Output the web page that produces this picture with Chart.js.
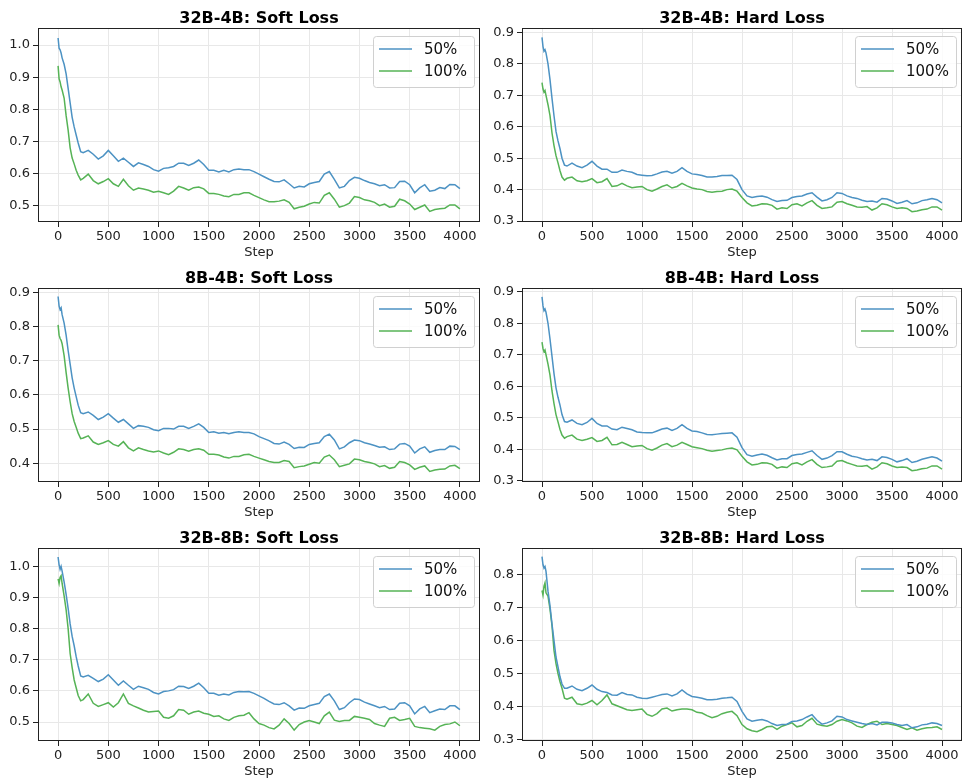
<!DOCTYPE html>
<html lang="en">
<head>
    <meta charset="UTF-8">
    <title>Distillation Loss Curves</title>
    <script src="https://cdn.jsdelivr.net/npm/chart.js"></script>
    <style>
        body {
            margin: 0;
            background: #ffffff;
            font-family: "DejaVu Sans", sans-serif;
        }
        #wrap {
            position: relative;
            width: 963px;
            height: 781px;
        }
        canvas {
            position: absolute;
        }
    </style>
</head>
<body>
    <div id="wrap">
        <canvas id="c0" width="481" height="260" style="left:0px;top:0px;width:481px;height:260px"></canvas>
        <canvas id="c1" width="482" height="260" style="left:481px;top:0px;width:482px;height:260px"></canvas>
        <canvas id="c2" width="481" height="260" style="left:0px;top:260px;width:481px;height:260px"></canvas>
        <canvas id="c3" width="482" height="260" style="left:481px;top:260px;width:482px;height:260px"></canvas>
        <canvas id="c4" width="481" height="261" style="left:0px;top:520px;width:481px;height:261px"></canvas>
        <canvas id="c5" width="482" height="261" style="left:481px;top:520px;width:482px;height:261px"></canvas>
    </div>

    <script>
        const steps = [0, 10, 20, 30, 40, 60, 80, 100, 120, 140, 160, 180, 200, 225,
            250, 300, 350, 400, 450, 500, 550, 600, 650, 700,
            750, 800, 850, 900, 950, 1000, 1050, 1100, 1150, 1200,
            1250, 1300, 1350, 1400, 1450, 1500, 1550, 1600, 1650, 1700,
            1750, 1800, 1850, 1900, 1950, 2000, 2050, 2100, 2150, 2200,
            2250, 2300, 2350, 2400, 2450, 2500, 2550, 2600, 2650, 2700,
            2750, 2800, 2850, 2900, 2950, 3000, 3050, 3100, 3150, 3200,
            3250, 3300, 3350, 3400, 3450, 3500, 3550, 3600, 3650, 3700,
            3750, 3800, 3850, 3900, 3950, 4000];

        const xTicks = [0, 500, 1000, 1500, 2000, 2500, 3000, 3500, 4000];
        const seriesLabels = ['50%', '100%'];
        const titles = ['32B-4B: Soft Loss', '32B-4B: Hard Loss', '8B-4B: Soft Loss',
            '8B-4B: Hard Loss', '32B-8B: Soft Loss', '32B-8B: Hard Loss'];

        // 32B-4B soft
        const soft32b4b_50 = [1.022, 0.99, 0.985, 0.975, 0.96, 0.94, 0.91, 0.865, 0.82, 0.775, 0.745, 0.72, 0.695, 0.668,
            0.665, 0.672, 0.66, 0.645, 0.655, 0.672, 0.655, 0.638, 0.648, 0.635,
            0.622, 0.633, 0.628, 0.622, 0.612, 0.607, 0.616, 0.618, 0.622, 0.632,
            0.632, 0.625, 0.632, 0.642, 0.628, 0.61, 0.61, 0.605, 0.61, 0.605,
            0.612, 0.614, 0.612, 0.612, 0.606, 0.598, 0.59, 0.582, 0.575, 0.574,
            0.58, 0.568, 0.555, 0.56, 0.558, 0.568, 0.572, 0.575, 0.598, 0.606,
            0.582, 0.555, 0.56, 0.578, 0.588, 0.585, 0.578, 0.572, 0.568, 0.562,
            0.565, 0.555, 0.556, 0.575, 0.576, 0.565, 0.54, 0.555, 0.565, 0.545,
            0.548, 0.556, 0.553, 0.566, 0.565, 0.553];
        const soft32b4b_100 = [0.935, 0.895, 0.885, 0.87, 0.86, 0.835, 0.78, 0.735, 0.68, 0.648, 0.63, 0.61, 0.595, 0.58,
            0.585, 0.598, 0.578, 0.568, 0.575, 0.584, 0.568, 0.56, 0.582, 0.562,
            0.548, 0.555, 0.552, 0.548, 0.542, 0.545, 0.54, 0.535, 0.545, 0.56,
            0.555, 0.548, 0.556, 0.558, 0.552, 0.538, 0.538, 0.535, 0.53, 0.528,
            0.535, 0.535, 0.54, 0.54, 0.532, 0.525, 0.518, 0.512, 0.512, 0.514,
            0.518, 0.51, 0.49, 0.495, 0.498, 0.505, 0.51, 0.508, 0.532, 0.54,
            0.52, 0.495, 0.5, 0.508, 0.528, 0.525, 0.518, 0.515, 0.51, 0.5,
            0.505, 0.495, 0.498, 0.52, 0.515, 0.505, 0.488, 0.495, 0.502, 0.482,
            0.488, 0.49, 0.492, 0.502, 0.502, 0.49];

        // 32B-4B hard
        const hard32b4b_50 = [0.884, 0.855, 0.84, 0.845, 0.835, 0.80, 0.75, 0.69, 0.635, 0.585, 0.555, 0.53, 0.50, 0.478,
            0.475, 0.484, 0.475, 0.47, 0.478, 0.49, 0.475, 0.465, 0.465, 0.455,
            0.455, 0.462, 0.458, 0.455, 0.448, 0.446, 0.444, 0.445, 0.45, 0.456,
            0.458, 0.452, 0.458, 0.47, 0.458, 0.45, 0.448, 0.445, 0.44, 0.44,
            0.442, 0.445, 0.445, 0.446, 0.432, 0.40, 0.38, 0.375, 0.378, 0.38,
            0.376, 0.368, 0.362, 0.365, 0.366, 0.375, 0.378, 0.38, 0.386, 0.39,
            0.376, 0.364, 0.368, 0.375, 0.39, 0.388, 0.38, 0.375, 0.372, 0.366,
            0.362, 0.364, 0.36, 0.372, 0.37, 0.364, 0.356, 0.36, 0.365, 0.355,
            0.358, 0.365, 0.368, 0.372, 0.368, 0.358];
        const hard32b4b_100 = [0.74, 0.72, 0.71, 0.715, 0.70, 0.67, 0.635, 0.58, 0.54, 0.508, 0.485, 0.46, 0.44, 0.43,
            0.436, 0.44, 0.428, 0.425, 0.428, 0.435, 0.422, 0.425, 0.435, 0.41,
            0.412, 0.42, 0.412, 0.406, 0.408, 0.41, 0.40, 0.395, 0.402, 0.41,
            0.415, 0.405, 0.41, 0.42, 0.412, 0.405, 0.402, 0.40, 0.394, 0.392,
            0.394, 0.395, 0.40, 0.402, 0.395, 0.375, 0.358, 0.348, 0.35, 0.355,
            0.354, 0.35, 0.338, 0.342, 0.34, 0.352, 0.355, 0.348, 0.358, 0.365,
            0.35, 0.34, 0.342, 0.345, 0.36, 0.362, 0.355, 0.35, 0.345, 0.344,
            0.346, 0.335, 0.342, 0.355, 0.352, 0.345, 0.34, 0.342, 0.34, 0.33,
            0.332, 0.336, 0.338, 0.345, 0.345, 0.335];

        // 8B-4B soft
        const soft8b4b_50 = [0.888, 0.86, 0.85, 0.855, 0.835, 0.81, 0.775, 0.73, 0.69, 0.65, 0.62, 0.595, 0.57, 0.548,
            0.545, 0.55, 0.54, 0.528, 0.535, 0.545, 0.532, 0.52, 0.528, 0.515,
            0.502, 0.51, 0.508, 0.505, 0.498, 0.495, 0.502, 0.502, 0.50, 0.508,
            0.508, 0.502, 0.508, 0.515, 0.505, 0.49, 0.492, 0.488, 0.49, 0.486,
            0.49, 0.492, 0.49, 0.49, 0.486, 0.478, 0.472, 0.466, 0.458, 0.456,
            0.462, 0.455, 0.443, 0.447, 0.446, 0.455, 0.458, 0.46, 0.478, 0.485,
            0.468, 0.442, 0.448, 0.46, 0.468, 0.466, 0.46, 0.456, 0.452, 0.447,
            0.448, 0.44, 0.442, 0.456, 0.458, 0.45, 0.43, 0.442, 0.448, 0.432,
            0.437, 0.44, 0.44, 0.45, 0.449, 0.44];
        const soft8b4b_100 = [0.805, 0.775, 0.765, 0.76, 0.75, 0.715, 0.665, 0.62, 0.58, 0.545, 0.522, 0.505, 0.488, 0.472,
            0.474, 0.48, 0.462, 0.455, 0.46, 0.466, 0.455, 0.45, 0.463, 0.445,
            0.436, 0.445, 0.44, 0.436, 0.433, 0.436, 0.43, 0.425, 0.432, 0.442,
            0.44, 0.435, 0.44, 0.442, 0.438, 0.426, 0.426, 0.424, 0.418, 0.415,
            0.42, 0.42, 0.425, 0.426, 0.42, 0.415, 0.41, 0.405, 0.402, 0.402,
            0.408, 0.405, 0.387, 0.39, 0.392, 0.397, 0.402, 0.40, 0.418, 0.424,
            0.41, 0.39, 0.394, 0.398, 0.412, 0.41, 0.405, 0.402, 0.398, 0.39,
            0.393, 0.385, 0.388, 0.405, 0.402, 0.395, 0.382, 0.388, 0.392, 0.376,
            0.38, 0.382, 0.383, 0.392, 0.394, 0.384];

        // 8B-4B hard
        const hard8b4b_50 = [0.884, 0.855, 0.84, 0.845, 0.835, 0.80, 0.75, 0.695, 0.64, 0.595, 0.565, 0.54, 0.51, 0.488,
            0.486, 0.493, 0.482, 0.478, 0.485, 0.498, 0.482, 0.474, 0.474, 0.464,
            0.462, 0.47, 0.466, 0.462, 0.455, 0.453, 0.452, 0.452, 0.458, 0.464,
            0.467, 0.46, 0.466, 0.478, 0.466, 0.458, 0.456, 0.452, 0.447, 0.446,
            0.448, 0.45, 0.451, 0.452, 0.438, 0.405, 0.383, 0.378, 0.382, 0.385,
            0.381, 0.373, 0.366, 0.37, 0.37, 0.38, 0.383, 0.385, 0.39, 0.395,
            0.38, 0.368, 0.372, 0.38, 0.392, 0.392, 0.384, 0.378, 0.375, 0.37,
            0.366, 0.368, 0.364, 0.376, 0.374, 0.368, 0.36, 0.364, 0.37, 0.358,
            0.362, 0.368, 0.372, 0.376, 0.372, 0.362];
        const hard8b4b_100 = [0.74, 0.72, 0.71, 0.715, 0.70, 0.67, 0.635, 0.585, 0.545, 0.51, 0.487, 0.463, 0.445, 0.435,
            0.44, 0.445, 0.432, 0.428, 0.432, 0.437, 0.425, 0.428, 0.438, 0.414,
            0.415, 0.422, 0.415, 0.408, 0.41, 0.412, 0.402, 0.397, 0.404, 0.413,
            0.418, 0.408, 0.413, 0.422, 0.415, 0.408, 0.405, 0.402, 0.397, 0.394,
            0.396, 0.398, 0.402, 0.404, 0.398, 0.378, 0.36, 0.35, 0.352, 0.357,
            0.356, 0.352, 0.34, 0.344, 0.342, 0.354, 0.357, 0.35, 0.36, 0.367,
            0.352, 0.342, 0.344, 0.347, 0.362, 0.364, 0.357, 0.352, 0.347, 0.346,
            0.348, 0.337, 0.344, 0.357, 0.354, 0.347, 0.342, 0.344, 0.342, 0.332,
            0.334, 0.338, 0.34, 0.347, 0.347, 0.337];

        // 32B-8B soft
        const soft32b8b_50 = [1.03, 1.005, 0.99, 1.0, 0.985, 0.95, 0.91, 0.865, 0.815, 0.775, 0.745, 0.71, 0.68, 0.648,
            0.645, 0.65, 0.64, 0.63, 0.638, 0.652, 0.635, 0.618, 0.632, 0.618,
            0.605, 0.615, 0.61, 0.605, 0.595, 0.59, 0.598, 0.60, 0.604, 0.615,
            0.614, 0.608, 0.615, 0.625, 0.61, 0.592, 0.592, 0.586, 0.59, 0.587,
            0.595, 0.598, 0.597, 0.598, 0.592, 0.584, 0.576, 0.566, 0.558, 0.556,
            0.562, 0.552, 0.538, 0.545, 0.544, 0.552, 0.556, 0.56, 0.582, 0.59,
            0.568, 0.54, 0.546, 0.562, 0.574, 0.572, 0.564, 0.558, 0.552, 0.546,
            0.55, 0.54, 0.542, 0.56, 0.562, 0.552, 0.526, 0.542, 0.55, 0.53,
            0.536, 0.542, 0.54, 0.552, 0.552, 0.54];
        const soft32b8b_100 = [0.96, 0.945, 0.965, 0.97, 0.945, 0.905, 0.86, 0.80, 0.72, 0.675, 0.635, 0.61, 0.585, 0.568,
            0.572, 0.59, 0.56, 0.55, 0.556, 0.562, 0.548, 0.562, 0.59, 0.56,
            0.552, 0.545, 0.538, 0.532, 0.534, 0.535, 0.515, 0.512, 0.52, 0.54,
            0.538, 0.525, 0.532, 0.535, 0.528, 0.525, 0.518, 0.52, 0.51, 0.505,
            0.515, 0.52, 0.522, 0.53, 0.51, 0.495, 0.49, 0.482, 0.478, 0.49,
            0.51, 0.495, 0.474, 0.492, 0.50, 0.505, 0.50, 0.495, 0.52, 0.532,
            0.506, 0.502, 0.505, 0.505, 0.518, 0.515, 0.512, 0.508, 0.495, 0.49,
            0.486, 0.512, 0.515, 0.505, 0.508, 0.512, 0.486, 0.482, 0.48, 0.478,
            0.474, 0.486, 0.492, 0.494, 0.50, 0.488];

        // 32B-8B hard
        const hard32b8b_50 = [0.855, 0.83, 0.82, 0.825, 0.81, 0.75, 0.705, 0.65, 0.60, 0.55, 0.52, 0.49, 0.468, 0.455,
            0.455, 0.462, 0.452, 0.448, 0.455, 0.465, 0.452, 0.445, 0.442, 0.435,
            0.434, 0.442, 0.436, 0.435, 0.428, 0.425, 0.424, 0.428, 0.432, 0.436,
            0.438, 0.432, 0.438, 0.45, 0.438, 0.43, 0.428, 0.425, 0.42, 0.42,
            0.422, 0.425, 0.426, 0.428, 0.415, 0.385, 0.362, 0.355, 0.358, 0.36,
            0.356, 0.348, 0.342, 0.345, 0.346, 0.354, 0.356, 0.36, 0.368, 0.375,
            0.358, 0.346, 0.35, 0.356, 0.37, 0.368, 0.36, 0.356, 0.352, 0.348,
            0.345, 0.348, 0.344, 0.352, 0.352, 0.35, 0.345, 0.342, 0.345, 0.335,
            0.338, 0.344, 0.346, 0.35, 0.348, 0.342];
        const hard32b8b_100 = [0.752, 0.738, 0.765, 0.775, 0.745, 0.735, 0.695, 0.645, 0.57, 0.53, 0.50, 0.475, 0.455, 0.425,
            0.422, 0.428, 0.408, 0.405, 0.41, 0.418, 0.405, 0.418, 0.435, 0.408,
            0.402, 0.396, 0.39, 0.388, 0.39, 0.392, 0.376, 0.37, 0.378, 0.392,
            0.395, 0.386, 0.39, 0.392, 0.392, 0.39, 0.382, 0.38, 0.372, 0.366,
            0.37, 0.378, 0.382, 0.385, 0.372, 0.345, 0.332, 0.326, 0.323, 0.33,
            0.338, 0.34, 0.33, 0.34, 0.345, 0.35, 0.338, 0.342, 0.355, 0.364,
            0.346, 0.342, 0.34, 0.345, 0.355, 0.36, 0.356, 0.35, 0.34, 0.336,
            0.345, 0.352, 0.355, 0.345, 0.348, 0.345, 0.342, 0.336, 0.33, 0.335,
            0.328, 0.332, 0.335, 0.336, 0.338, 0.33];

        const yTicks0 = [0.5, 0.6, 0.7, 0.8, 0.9, 1.0];
        const yTicks1 = [0.3, 0.4, 0.5, 0.6, 0.7, 0.8, 0.9];
        const yTicks2 = [0.4, 0.5, 0.6, 0.7, 0.8, 0.9];
        const yTicks3 = [0.3, 0.4, 0.5, 0.6, 0.7, 0.8, 0.9];
        const yTicks4 = [0.5, 0.6, 0.7, 0.8, 0.9, 1.0];
        const yTicks5 = [0.3, 0.4, 0.5, 0.6, 0.7, 0.8];

        const BLUE = 'rgb(76,146,195)';
        const GREEN = 'rgb(86,179,86)';
        const FONT = '"DejaVu Sans", sans-serif';

        // frame, title and boxed legend drawn over the plot area, matplotlib style
        const framePlugin = {
            id: 'frame',
            afterDraw(chart, args, opts) {
                const ctx = chart.ctx;
                const a = chart.chartArea;
                ctx.save();

                ctx.strokeStyle = '#222';
                ctx.lineWidth = 1;
                ctx.strokeRect(Math.round(a.left) + 0.5, Math.round(a.top) + 0.5,
                    Math.round(a.right - a.left) - 1, Math.round(a.bottom - a.top) - 1);

                ctx.fillStyle = '#000';
                ctx.font = 'bold 16px ' + FONT;
                ctx.textAlign = 'center';
                ctx.textBaseline = 'alphabetic';
                ctx.fillText(opts.title, (a.left + a.right) / 2, a.top - 5);

                const w = 101, h = 51;
                const x = a.right - 6 - w, y = a.top + 8;
                ctx.beginPath();
                ctx.roundRect(x + 0.5, y + 0.5, w, h, 3);
                ctx.fillStyle = 'rgba(255,255,255,0.8)';
                ctx.fill();
                ctx.strokeStyle = '#d0d0d0';
                ctx.stroke();

                ctx.font = '15px ' + FONT;
                ctx.textAlign = 'left';
                ctx.textBaseline = 'middle';
                chart.data.datasets.forEach(function(ds, i) {
                    const ly = y + 13 + i * 22;
                    ctx.strokeStyle = ds.borderColor;
                    ctx.lineWidth = 1.5;
                    ctx.beginPath();
                    ctx.moveTo(x + 6, ly);
                    ctx.lineTo(x + 39, ly);
                    ctx.stroke();
                    ctx.fillStyle = '#111';
                    ctx.fillText(ds.label, x + 51, ly + 1);
                });
                ctx.restore();
            }
        };

        function pts(arr) {
            return steps.map(function(s, i) { return { x: s, y: arr[i] }; });
        }

        function makeChart(id, title, d50, d100, yMin, yMax, yTickVals, yAxisW, padBottom) {
            const ctx = document.getElementById(id).getContext('2d');
            return new Chart(ctx, {
                type: 'line',
                data: {
                    datasets: [{
                        label: seriesLabels[0],
                        data: pts(d50),
                        borderColor: BLUE,
                        borderWidth: 1.5,
                        pointRadius: 0,
                        tension: 0,
                        fill: false
                    }, {
                        label: seriesLabels[1],
                        data: pts(d100),
                        borderColor: GREEN,
                        borderWidth: 1.5,
                        pointRadius: 0,
                        tension: 0,
                        fill: false
                    }]
                },
                options: {
                    responsive: false,
                    animation: false,
                    layout: { padding: { top: 28, right: 1, bottom: padBottom, left: 0 } },
                    plugins: {
                        legend: { display: false },
                        tooltip: { enabled: false },
                        frame: { title: title }
                    },
                    scales: {
                        x: {
                            type: 'linear',
                            min: -200,
                            max: 4200,
                            afterBuildTicks: function(s) { s.ticks = xTicks.map(function(v) { return { value: v }; }); },
                            afterFit: function(s) { s.height = 38; },
                            ticks: {
                                color: '#222',
                                font: { family: FONT, size: 13 },
                                padding: 2,
                                maxRotation: 0,
                                autoSkip: false,
                                callback: function(v) { return String(v); }
                            },
                            grid: { color: '#e8e8e8', tickColor: '#222', tickLength: 5 },
                            border: { display: false },
                            title: { display: true, text: 'Step', color: '#222', font: { family: FONT, size: 13 }, padding: { top: 0, bottom: 0 } }
                        },
                        y: {
                            min: yMin,
                            max: yMax,
                            afterBuildTicks: function(s) { s.ticks = yTickVals.map(function(v) { return { value: v }; }); },
                            afterFit: function(s) { s.width = yAxisW; },
                            ticks: {
                                color: '#222',
                                font: { family: FONT, size: 13 },
                                padding: 3,
                                callback: function(v) { return Number(v).toFixed(1); }
                            },
                            grid: { color: '#e8e8e8', tickColor: '#222', tickLength: 5 },
                            border: { display: false }
                        }
                    }
                },
                plugins: [framePlugin]
            });
        }

        window.onload = function() {
            makeChart('c0', titles[0], soft32b4b_50, soft32b4b_100, 0.449, 1.053, yTicks0, 38, 0);
            makeChart('c1', titles[1], hard32b4b_50, hard32b4b_100, 0.297, 0.914, yTicks1, 41, 0);
            makeChart('c2', titles[2], soft8b4b_50, soft8b4b_100, 0.345, 0.913, yTicks2, 38, 0);
            makeChart('c3', titles[3], hard8b4b_50, hard8b4b_100, 0.296, 0.912, yTicks3, 41, 0);
            makeChart('c4', titles[4], soft32b8b_50, soft32b8b_100, 0.439, 1.059, yTicks4, 38, 2);
            makeChart('c5', titles[5], hard32b8b_50, hard32b8b_100, 0.295, 0.881, yTicks5, 41, 2);
        };
    </script>
</body>
</html>
